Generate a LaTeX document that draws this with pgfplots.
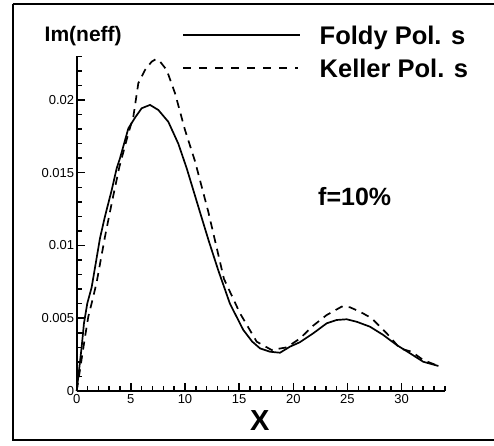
\documentclass[border=0pt]{standalone}
\usepackage{pgfplots}
\pgfplotsset{compat=1.18}
\usepackage{fontspec}
\setmainfont{Liberation Sans}
\begin{document}
\begin{tikzpicture}
\useasboundingbox (0pt,0pt) rectangle (494pt,-445pt);
\draw[line width=2pt] (12.7pt,-4pt) -- (500pt,-4pt);
\draw[line width=2pt] (12.7pt,-4pt) -- (12.7pt,-440pt) -- (500pt,-440pt);
\begin{axis}[
  at={(76.7pt,-391pt)}, anchor=south west,
  scale only axis, width=368.2pt, height=334.7pt,
  xmin=0, xmax=34, ymin=0, ymax=0.023,
  axis lines=left, axis line style={-, line width=1.8pt},
  xtick={0,5,10,15,20,25,30}, minor xtick={1,2,3,4,6,7,8,9,11,12,13,14,16,17,18,19,21,22,23,24,26,27,28,29,31,32,33,34},
  ytick={0,0.005,0.01,0.015,0.02}, yticklabels={0,0.005,0.01,0.015,0.02},
  minor ytick={0.001,0.002,0.003,0.004,0.006,0.007,0.008,0.009,0.011,0.012,0.013,0.014,0.016,0.017,0.018,0.019,0.021,0.022,0.023},
  scaled y ticks=false,
  tick align=inside,
  major tick length=8pt, minor tick length=5pt,
  every tick/.style={black, line width=1.5pt},
  tick label style={font=\fontsize{13}{15}\selectfont},
  /pgf/number format/assume math mode=true,
  yticklabel style={xshift=1pt},
  clip=false,
]
\addplot[black, line width=1.7pt] coordinates {
(0,0) (0.46,0.00304) (0.67,0.00465) (0.98,0.00603) (1.38,0.00712) (2.15,0.0105)
(2.61,0.0120) (3.23,0.0138) (3.69,0.0153) (4.0,0.0160) (4.77,0.01805) (5.4,0.0188)
(6.0,0.01943) (6.77,0.01966) (7.54,0.01931) (8.46,0.0185) (9.38,0.0170) (10.16,0.0153)
(11.38,0.0123) (12.2,0.0103) (13.07,0.0083) (14.15,0.0060) (15.38,0.0042) (16.2,0.0034)
(16.93,0.00293) (17.85,0.0027) (18.77,0.00263) (19.7,0.00305) (20.6,0.00335) (21.85,0.00397)
(23.08,0.00465) (24.0,0.00488) (24.93,0.00493) (25.85,0.00476) (27.08,0.00442) (28.31,0.00385)
(29.55,0.00316) (30.78,0.00259) (32.0,0.00201) (33.4,0.00172)
};
\addplot[black, line width=1.7pt, dash pattern=on 8pt off 6pt] coordinates {
(0,0) (0.3,0.00144) (0.77,0.00373) (1.07,0.0051) (1.53,0.00648) (1.85,0.0075)
(2.61,0.0106) (3.23,0.0129) (3.94,0.0154) (4.77,0.0177) (5.23,0.01885) (5.69,0.02115)
(6.31,0.02206) (6.92,0.02263) (7.3,0.0228) (7.63,0.0227) (8.31,0.02206) (9.08,0.02046)
(10.0,0.01794) (10.92,0.0158) (12.15,0.01232) (13.6,0.0077) (15.08,0.00534) (16.62,0.00339)
(18.0,0.00282) (19.39,0.0030) (20.6,0.0036) (21.85,0.0045) (23.08,0.00522) (24.47,0.0058)
(25.24,0.00575) (26.16,0.00545) (27.24,0.0050) (28.62,0.00397) (29.85,0.00293) (30.93,0.0027)
(32.0,0.00213) (33.4,0.00172)
};
\end{axis}
\node[anchor=base west, inner sep=0pt, font=\bfseries\fontsize{21}{24}\selectfont] at (44.5pt,-41pt) {Im(neff)};
\draw[line width=1.7pt] (183pt,-35pt) -- (300pt,-35pt);
\draw[line width=1.7pt, dash pattern=on 8pt off 8pt] (183pt,-68pt) -- (298pt,-68pt);
\node[anchor=base west, inner sep=0pt, font=\bfseries\fontsize{25.5}{28}\selectfont] at (319.5pt,-44pt) {Foldy Pol. s};
\node[anchor=base west, inner sep=0pt, font=\bfseries\fontsize{25.5}{28}\selectfont] at (319.5pt,-77pt) {Keller Pol. s};
\node[anchor=base west, inner sep=0pt, font=\bfseries\fontsize{25}{28}\selectfont] at (318pt,-205pt) {f=10\%};
\node[anchor=base, inner sep=0pt, font=\bfseries\fontsize{29}{32}\selectfont] at (259.7pt,-430.7pt) {X};
\end{tikzpicture}
\end{document}
